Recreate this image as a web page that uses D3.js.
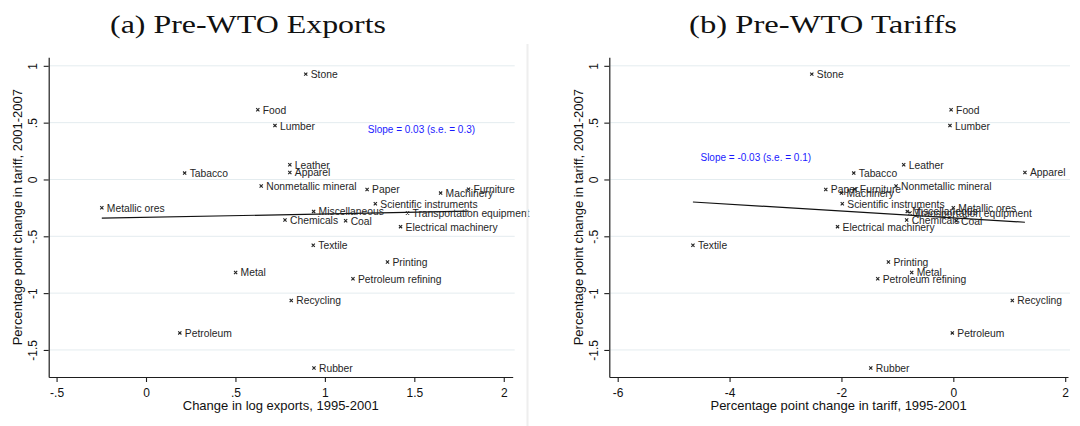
<!DOCTYPE html>
<html>
<head>
<meta charset="utf-8">
<script src="https://cdn.jsdelivr.net/npm/d3@7"></script>
<style>
  html, body { margin: 0; padding: 0; background: #fff; }
  svg { display: block; }
  text { font-family: "Liberation Sans", Arial, Helvetica, sans-serif; }
</style>
</head>
<body>
<svg id="chart" width="1080" height="426"></svg>
<script>
// Industry-level data
const industries = [
  "Stone", "Food", "Lumber", "Leather", "Apparel", "Tabacco",
  "Nonmetallic mineral", "Paper", "Machinery", "Furniture",
  "Scientific instruments", "Metallic ores", "Miscellaneous",
  "Transportation equipment", "Chemicals", "Coal", "Electrical machinery",
  "Textile", "Printing", "Metal", "Petroleum refining", "Recycling",
  "Petroleum", "Rubber"
];
// Percentage point change in tariff, 2001-2007 (vertical axis, both panels)
const tariffChange0107 = [
  0.927, 0.614, 0.474, 0.129, 0.061, 0.056,
  -0.058, -0.088, -0.120, -0.085,
  -0.213, -0.249, -0.281,
  -0.295, -0.357, -0.363, -0.415,
  -0.579, -0.726, -0.818, -0.874, -1.065,
  -1.350, -1.659
];
// Change in log exports, 1995-2001 (panel a)
const logExportChange9501 = [
  0.893, 0.625, 0.721, 0.804, 0.804, 0.216,
  0.644, 1.236, 1.647, 1.803,
  1.282, -0.247, 0.937,
  1.462, 0.777, 1.116, 1.423,
  0.935, 1.350, 0.501, 1.157, 0.812,
  0.189, 0.939
];
// Percentage point change in tariff, 1995-2001 (panel b)
const tariffChange9501 = [
  -2.53, -0.04, -0.06, -0.887, 1.28, -1.78,
  -1.024, -2.28, -2.00, -1.76,
  -1.985, 0.00, -0.823,
  -0.775, -0.834, 0.05, -2.07,
  -4.655, -1.16, -0.744, -1.351, 1.054,
  -0.018, -1.476
];

const yTicks = [-1.5, -1, -0.5, 0, 0.5, 1];
const yTickLabels = ["-1.5", "-1", "-.5", "0", ".5", "1"];
const xTicksA = [-0.5, 0, 0.5, 1, 1.5, 2];
const xTickLabelsA = ["-.5", "0", ".5", "1", "1.5", "2"];
const xTicksB = [-6, -4, -2, 0, 2];
const xTickLabelsB = ["-6", "-4", "-2", "0", "2"];

// Fitted slopes and standard errors
const slopeA = 0.03, seA = 0.3;
const slopeB = -0.03, seB = 0.1;

const svg = d3.select("#chart");
const plotTop = 57.3, plotBottom = 377;
const gridColor = "#e4ecef";
const inkColor = "#1e1e1e";

function drawPanel(p) {
  const g = svg.append("g");
  const x = d3.scaleLinear().domain(p.xDomain).range([p.left, p.right]);
  const y = d3.scaleLinear().domain([-1.738, 1.075]).range([plotBottom, plotTop]);

  // panel title
  g.append("text")
    .attr("x", p.titleX).attr("y", 33)
    .attr("text-anchor", "middle")
    .attr("textLength", p.titleWidth)
    .attr("lengthAdjust", "spacingAndGlyphs")
    .style("font-family", "'Liberation Serif', 'Times New Roman', serif")
    .style("font-size", "26px")
    .attr("fill", "#111")
    .text(p.title);

  // horizontal grid lines
  g.selectAll("line.grid").data(yTicks).join("line")
    .attr("class", "grid")
    .attr("x1", p.left + 1).attr("x2", p.right + 2)
    .attr("y1", d => y(d)).attr("y2", d => y(d))
    .attr("stroke", gridColor).attr("stroke-width", 1);

  // x axis
  const xAxis = g.append("g")
    .attr("transform", `translate(0,${plotBottom})`)
    .call(d3.axisBottom(x).tickValues(p.xTicks)
      .tickFormat((d, i) => p.xTickLabels[i])
      .tickSize(5).tickSizeOuter(0).tickPadding(6));
  xAxis.selectAll("text").style("font-size", "12px").attr("fill", "#111");

  // y axis with rotated tick labels
  const yAxis = g.append("g")
    .attr("transform", `translate(${p.left},0)`)
    .call(d3.axisLeft(y).tickValues(yTicks)
      .tickFormat((d, i) => yTickLabels[i])
      .tickSize(5).tickSizeOuter(0));
  yAxis.selectAll("text")
    .attr("x", null).attr("dy", null)
    .attr("text-anchor", "middle")
    .attr("transform", "translate(-11.4,0) rotate(-90)")
    .style("font-size", "12px").attr("fill", "#111");

  [xAxis, yAxis].forEach(a => {
    a.select(".domain").attr("stroke", inkColor).attr("stroke-width", 1.2);
    a.selectAll(".tick line").attr("stroke", inkColor).attr("stroke-width", 1.1);
  });

  // axis titles
  g.append("text")
    .attr("x", (p.left + p.right) / 2).attr("y", 410)
    .attr("text-anchor", "middle")
    .style("font-size", "13px").attr("fill", "#111")
    .text(p.xTitle);
  g.append("text")
    .attr("transform", `translate(${p.left - 26.7},${(plotTop + plotBottom) / 2}) rotate(-90)`)
    .attr("text-anchor", "middle")
    .style("font-size", "13px").attr("fill", "#111")
    .text("Percentage point change in tariff, 2001-2007");

  // fitted line through the mean point
  const xs = p.xValues, ys = tariffChange0107;
  const mx = d3.mean(xs), my = d3.mean(ys);
  const [x0, x1] = d3.extent(xs);
  const fit = v => my + p.slope * (v - mx);
  g.append("line")
    .attr("x1", x(x0)).attr("y1", y(fit(x0)))
    .attr("x2", x(x1)).attr("y2", y(fit(x1)))
    .attr("stroke", "#111").attr("stroke-width", 1.2);

  // markers and labels
  const pts = industries.map((name, i) => ({ name, xv: xs[i], yv: ys[i] }));
  const mk = g.selectAll("g.pt").data(pts).join("g")
    .attr("class", "pt")
    .attr("transform", d => `translate(${x(d.xv)},${y(d.yv)})`);
  mk.append("path")
    .attr("d", "M-1.6,-1.6L1.6,1.6M-1.6,1.6L1.6,-1.6")
    .attr("stroke", "#222").attr("stroke-width", 1.1).attr("fill", "none");
  mk.append("text")
    .attr("x", 5).attr("dy", "0.38em")
    .style("font-size", "10.3px").attr("fill", "#262626")
    .text(d => d.name);

  // slope annotation
  g.append("text")
    .attr("x", x(p.noteAt[0])).attr("y", y(p.noteAt[1])).attr("dy", "0.36em")
    .style("font-size", "10px").attr("fill", "#1a1aff")
    .text(`Slope = ${p.slope.toFixed(2)} (s.e. = ${p.se})`);
}

drawPanel({
  title: "(a) Pre-WTO Exports", titleX: 248, titleWidth: 276,
  left: 48.7, right: 512.7, xDomain: [-0.544, 2.05],
  xTicks: xTicksA, xTickLabels: xTickLabelsA,
  xTitle: "Change in log exports, 1995-2001",
  xValues: logExportChange9501, slope: slopeA, se: seA,
  noteAt: [1.24, 0.443]
});

drawPanel({
  title: "(b) Pre-WTO Tariffs", titleX: 823, titleWidth: 268,
  left: 609.3, right: 1068, xDomain: [-6.15, 2.05],
  xTicks: xTicksB, xTickLabels: xTickLabelsB,
  xTitle: "Percentage point change in tariff, 1995-2001",
  xValues: tariffChange9501, slope: slopeB, se: seB,
  noteAt: [-4.52, 0.196]
});

// faint border at the right edge of the first panel
svg.append("line")
  .attr("x1", 527.5).attr("x2", 527.5).attr("y1", 44).attr("y2", 426)
  .attr("stroke", "#eeeeee").attr("stroke-width", 2);
</script>
</body>
</html>
